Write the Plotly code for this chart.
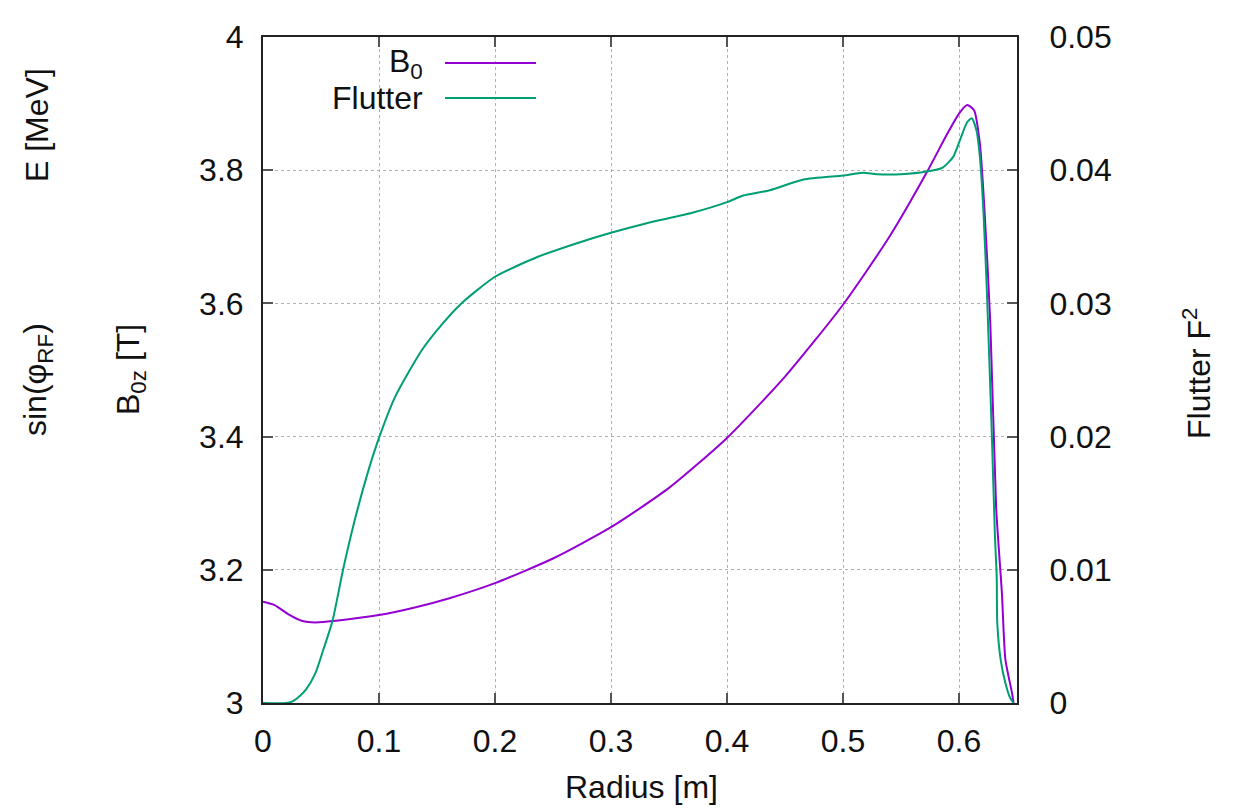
import plotly.graph_objects as go

# Radial profile samples
radius_b0 = [0.000, 0.010, 0.022, 0.034, 0.045, 0.065, 0.100, 0.130, 0.160, 0.200,
             0.250, 0.300, 0.350, 0.400, 0.450, 0.500, 0.540, 0.572, 0.590, 0.600,
             0.607, 0.613, 0.618, 0.622, 0.627, 0.632, 0.635, 0.637, 0.640, 0.6457, 0.647]
b0_field = [3.152, 3.147, 3.133, 3.123, 3.121, 3.124, 3.132, 3.143, 3.157, 3.180,
            3.217, 3.264, 3.323, 3.398, 3.490, 3.598, 3.700, 3.796, 3.855, 3.885,
            3.898, 3.890, 3.840, 3.740, 3.570, 3.294, 3.215, 3.165, 3.065, 3.015, 3.000]

radius_fl = [0.000, 0.020, 0.025, 0.030, 0.037, 0.045, 0.052, 0.060, 0.069, 0.079,
             0.090, 0.100, 0.114, 0.137, 0.155, 0.171, 0.200, 0.237, 0.270, 0.300,
             0.330, 0.370, 0.400, 0.414, 0.437, 0.466, 0.500, 0.517, 0.529, 0.550,
             0.572, 0.586, 0.595, 0.601, 0.607, 0.611, 0.615, 0.618, 0.621, 0.624,
             0.628, 0.631, 0.6325, 0.633, 0.636, 0.640, 0.644, 0.647]
flutter = [0.0000, 0.0000, 0.0001, 0.0004, 0.0010, 0.0022, 0.0040, 0.0062, 0.0100, 0.0137,
           0.0172, 0.0199, 0.0230, 0.0265, 0.0285, 0.0300, 0.0320, 0.0335, 0.0345, 0.0353,
           0.0360, 0.0368, 0.0376, 0.0381, 0.0385, 0.0393, 0.0396, 0.0398, 0.0397, 0.0397,
           0.0399, 0.0402, 0.0410, 0.0423, 0.0436, 0.0439, 0.0430, 0.0410, 0.0370, 0.0310,
           0.0210, 0.0125, 0.0095, 0.0060, 0.0032, 0.0015, 0.0004, 0.0000]

x_ticks = [0, 0.1, 0.2, 0.3, 0.4, 0.5, 0.6]
y_ticks = [3, 3.2, 3.4, 3.6, 3.8, 4]
y2_ticks = [0, 0.01, 0.02, 0.03, 0.04, 0.05]

PURPLE = "#9400d3"
GREEN = "#009e73"
FONT = "Liberation Sans, Arial, sans-serif"
FS = 32

fig = go.Figure()
fig.add_trace(go.Scatter(x=radius_b0, y=b0_field, mode="lines", name="B0",
                         line=dict(color=PURPLE, width=2, shape="spline", smoothing=0.6),
                         yaxis="y"))
fig.add_trace(go.Scatter(x=radius_fl, y=flutter, mode="lines", name="Flutter",
                         line=dict(color=GREEN, width=2, shape="spline", smoothing=0.6),
                         yaxis="y2"))

axis_common = dict(showline=True, linecolor="#222", linewidth=2, ticks="inside",
                   ticklen=10, tickwidth=1.5, tickcolor="#555",
                   tickfont=dict(family=FONT, size=FS, color="#111"), zeroline=False)

fig.update_layout(
    width=1234, height=809,
    margin=dict(l=263, r=217, t=37, b=106),
    paper_bgcolor="white", plot_bgcolor="white",
    showlegend=False,
    font=dict(family=FONT, size=FS, color="#111"),
    xaxis=dict(range=[0, 0.65], tickvals=x_ticks, ticktext=[f"{v:g}" for v in x_ticks],
               mirror="ticks", showgrid=True, gridcolor="#b0b0b0", griddash="dot",
               gridwidth=1, ticklabelstandoff=9, **axis_common),
    yaxis=dict(range=[3, 4], tickvals=y_ticks, ticktext=[f"{v:g}" for v in y_ticks],
               showgrid=True, gridcolor="#b0b0b0", griddash="dot", gridwidth=1,
               ticklabelstandoff=11, **axis_common),
    yaxis2=dict(range=[0, 0.05], tickvals=y2_ticks, ticktext=[f"{v:g}" for v in y2_ticks],
                overlaying="y", side="right", showgrid=False,
                ticklabelstandoff=24, **axis_common),
)

def px_x(p):
    return (p - 263) / 754

def px_y(p):
    return (703 - p) / 666

# Key: right-aligned labels followed by line samples
key = [("B<sub>0</sub>", PURPLE, 63), ("Flutter", GREEN, 98)]
for label, color, yp in key:
    fig.add_annotation(x=px_x(425), y=px_y(yp), xref="paper", yref="paper",
                       text=label, showarrow=False, xanchor="right", yanchor="middle",
                       font=dict(family=FONT, size=FS, color="#111"))
    fig.add_shape(type="line", xref="paper", yref="paper",
                  x0=px_x(445), x1=px_x(536), y0=px_y(yp), y1=px_y(yp),
                  line=dict(color=color, width=2))

# Axis titles
titles = [
    ("E [MeV]", 37, 125, -90),
    ("sin(φ<sub>RF</sub>)", 37, 380, -90),
    ("B<sub>0z</sub> [T]", 130, 370, -90),
    ("Flutter F<sup>2</sup>", 1197, 373, -90),
    ("Radius [m]", 641, 787, 0),
]
for text, xp, yp, ang in titles:
    fig.add_annotation(x=px_x(xp), y=px_y(yp), xref="paper", yref="paper",
                       text=text, showarrow=False, textangle=ang,
                       xanchor="center", yanchor="middle",
                       font=dict(family=FONT, size=FS, color="#111"))

fig.write_html("out.html")
